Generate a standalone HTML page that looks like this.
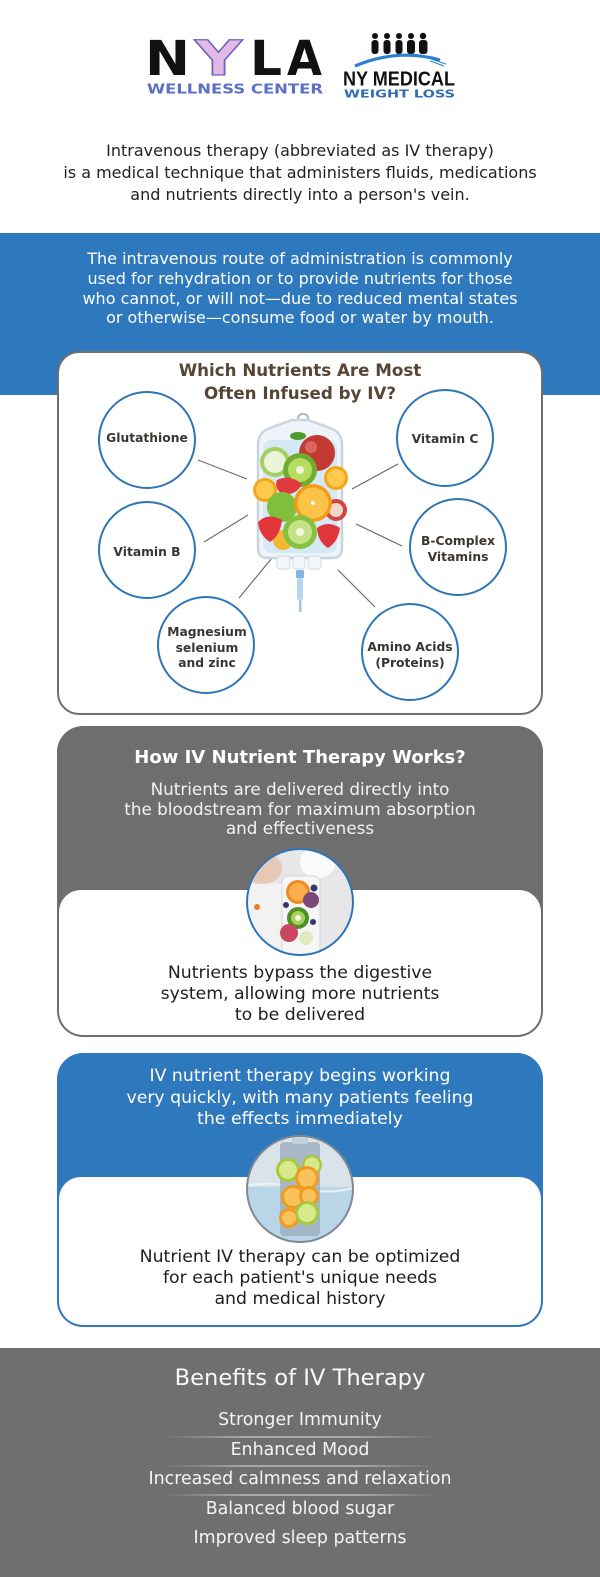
<!DOCTYPE html>
<html><head><meta charset="utf-8">
<style>
*{margin:0;padding:0;box-sizing:border-box}
html,body{width:600px;height:1577px;overflow:hidden;background:#fff}
body{position:relative;font-family:"DejaVu Sans","Liberation Sans",sans-serif}
.t{position:absolute;left:0;width:600px;text-align:center;white-space:nowrap}
.c{position:absolute;width:110px;text-align:center;white-space:nowrap;font-weight:bold;font-size:12.3px;color:#3b3530}
.dv{position:absolute;left:163px;width:275px;height:2px;background:linear-gradient(90deg,rgba(160,160,160,0),#a8a8a8 30%,#a8a8a8 70%,rgba(160,160,160,0))}
</style></head><body>

<!-- blue band -->
<div style="position:absolute;left:0;top:233px;width:600px;height:162px;background:#2e78bd"></div>
<!-- card 1 -->
<div style="position:absolute;left:57px;top:351px;width:486px;height:364px;background:#fff;border:2px solid #707070;border-radius:22px"></div>
<!-- card 2 -->
<div style="position:absolute;left:57px;top:726px;width:486px;height:311px;background:#6e6e6e;border-radius:26px;overflow:hidden">
  <div style="position:absolute;left:2px;right:2px;bottom:2px;top:164px;background:#fff;border-radius:22px 22px 24px 24px"></div>
</div>
<!-- card 3 -->
<div style="position:absolute;left:57px;top:1053px;width:486px;height:274px;background:#2e78bd;border-radius:26px;overflow:hidden">
  <div style="position:absolute;left:2px;right:2px;bottom:2px;top:124px;background:#fff;border-radius:22px 22px 24px 24px"></div>
</div>
<!-- benefits band -->
<div style="position:absolute;left:0;top:1348px;width:600px;height:229px;background:#6f6f6f"></div>

<svg style="position:absolute;left:0;top:0" width="600" height="1577" viewBox="0 0 600 1577">
  <defs>
    <clipPath id="p2"><circle cx="300" cy="902" r="53"/></clipPath>
    <clipPath id="p3"><circle cx="300" cy="1189" r="53"/></clipPath>
  </defs>

  <!-- NYLA logo -->
  <text x="145" y="75" font-family="DejaVu Sans" font-weight="bold" font-size="48" textLength="45" lengthAdjust="spacingAndGlyphs" fill="#111">N</text>
  <text x="195" y="75" font-family="DejaVu Sans" font-weight="bold" font-size="48" textLength="47" lengthAdjust="spacingAndGlyphs" fill="#e3b9e6" stroke="#6a62c0" stroke-width="1.3">Y</text>
  <text x="250" y="75" font-family="DejaVu Sans" font-weight="bold" font-size="48" textLength="32" lengthAdjust="spacingAndGlyphs" fill="#111">L</text>
  <text x="287" y="75" font-family="DejaVu Sans" font-weight="bold" font-size="48" textLength="35" lengthAdjust="spacingAndGlyphs" fill="#111">A</text>
  <text x="147" y="93.5" font-family="DejaVu Sans" font-weight="bold" font-size="13.5" textLength="176" lengthAdjust="spacingAndGlyphs" fill="#5b6fc4">WELLNESS CENTER</text>

  <!-- NY Medical logo -->
  <g fill="#111">
    <circle cx="375" cy="36" r="3"/><rect x="371.5" y="40" width="7" height="14" rx="3"/>
    <circle cx="387" cy="36" r="3"/><rect x="383.5" y="40" width="7" height="14" rx="3"/>
    <circle cx="399" cy="36" r="3"/><rect x="395.5" y="40" width="7" height="14" rx="3"/>
    <circle cx="411" cy="36" r="3"/><rect x="407" y="40" width="8" height="14" rx="3"/>
    <circle cx="423" cy="36" r="3.2"/><rect x="419" y="40" width="8.5" height="14" rx="3"/>
  </g>
  <path d="M355,66 Q398,48 440,60" stroke="#2a7fd0" stroke-width="3.2" fill="none"/>
  <path d="M428,58 L446,64 M430,61 L444,66" stroke="#2a7fd0" stroke-width="1" fill="none"/>
  <text x="343" y="85.5" font-family="Liberation Sans" font-weight="bold" font-size="20.5" textLength="112" lengthAdjust="spacingAndGlyphs" fill="#111">NY MEDICAL</text>
  <text x="344" y="97.5" font-family="DejaVu Sans" font-weight="bold" font-size="10.5" textLength="111" lengthAdjust="spacingAndGlyphs" fill="#2f6db5">WEIGHT LOSS</text>

  <!-- connectors -->
  <g stroke="#6b6b6b" stroke-width="1.2">
    <line x1="198" y1="460" x2="247" y2="479"/>
    <line x1="398" y1="464" x2="352" y2="489"/>
    <line x1="204" y1="542" x2="248" y2="515"/>
    <line x1="356" y1="524" x2="402" y2="546"/>
    <line x1="239" y1="598" x2="272" y2="558"/>
    <line x1="338" y1="570" x2="375" y2="607"/>
  </g>
  <!-- nutrient circles -->
  <g fill="#fff" stroke="#2e75b6" stroke-width="2">
    <circle cx="147" cy="440" r="48"/>
    <circle cx="445" cy="438" r="48"/>
    <circle cx="147" cy="550" r="48"/>
    <circle cx="458" cy="547" r="48"/>
    <circle cx="206" cy="645" r="48"/>
    <circle cx="410" cy="652" r="48"/>
  </g>

  <!-- IV bag -->
  <path d="M298,422 Q297,414 303,414 Q309,414 308,421" stroke="#a9b4bf" stroke-width="2" fill="none"/>
  <path d="M258,445 Q258,432 270,428 L292,420 L308,420 L330,428 Q342,432 342,445 L342,548 Q342,558 332,558 L268,558 Q258,558 258,548 Z" fill="#eef4f9" stroke="#c8d4de" stroke-width="2.5"/>
  <rect x="263" y="440" width="74" height="113" rx="8" fill="#d5e8f5"/>
  <g>
    <circle cx="275" cy="462" r="15" fill="#a5cf62"/><circle cx="275" cy="462" r="11" fill="#eaf4d6"/>
    <circle cx="317" cy="453" r="18" fill="#c23a32"/><circle cx="311" cy="447" r="6" fill="#d9675d"/>
    <ellipse cx="298" cy="436" rx="8" ry="4" fill="#4e9a2e"/>
    <circle cx="265" cy="490" r="12" fill="#f4a51c"/><circle cx="265" cy="490" r="9" fill="#fcca4f"/>
    <circle cx="336" cy="478" r="12" fill="#f4a51c"/><circle cx="336" cy="478" r="9" fill="#fcca4f"/>
    <circle cx="300" cy="470" r="17" fill="#6fac2f"/><circle cx="300" cy="470" r="12" fill="#b6dc62"/><circle cx="300" cy="470" r="4" fill="#f3f6d6"/>
    <path d="M277,480 Q290,474 302,484 Q296,496 282,494 Q274,488 277,480Z" fill="#e0393e"/>
    <circle cx="282" cy="507" r="15" fill="#7fbf3d"/>
    <circle cx="336" cy="510" r="11" fill="#d1463e"/><circle cx="336" cy="510" r="7" fill="#f0d8c8"/>
    <circle cx="313" cy="503" r="19" fill="#f49a16"/><circle cx="313" cy="503" r="15.5" fill="#fcc24a"/><circle cx="313" cy="503" r="2" fill="#fff"/>
    <circle cx="283" cy="540" r="10" fill="#f6b733"/>
    <path d="M258,522 Q268,512 282,520 Q280,536 270,542 Q259,535 258,522Z" fill="#e1373c"/>
    <circle cx="300" cy="532" r="17" fill="#86c03f"/><circle cx="300" cy="532" r="12" fill="#c6e286"/><circle cx="300" cy="532" r="4" fill="#f4f7e0"/>
    <path d="M317,528 Q328,520 340,528 Q338,542 328,548 Q318,542 317,528Z" fill="#df363b"/>
  </g>
  <rect x="277" y="556" width="13" height="13" rx="3" fill="#f3f6f8" stroke="#d0d9e0"/>
  <rect x="293" y="556" width="12" height="13" rx="3" fill="#f3f6f8" stroke="#d0d9e0"/>
  <rect x="308" y="556" width="13" height="13" rx="3" fill="#f3f6f8" stroke="#d0d9e0"/>
  <rect x="296" y="570" width="8" height="8" rx="1" fill="#7fb6e2"/>
  <rect x="297" y="578" width="6" height="22" rx="2" fill="#b3d7f1"/>
  <rect x="299" y="600" width="2.5" height="12" fill="#9cc7ea"/>

  <!-- card 2 photo -->
  <g clip-path="url(#p2)">
    <rect x="240" y="840" width="120" height="120" fill="#e7e7e9"/>
    <ellipse cx="262" cy="868" rx="20" ry="16" fill="#e7c7b5"/>
    <rect x="240" y="884" width="45" height="76" fill="#f2f2f2"/>
    <ellipse cx="318" cy="862" rx="18" ry="16" fill="#fafafa"/>
    <rect x="282" y="876" width="38" height="80" rx="6" fill="#f6f6f7" stroke="#d6d6da"/>
    <circle cx="298" cy="892" r="12" fill="#f08a20"/><circle cx="298" cy="892" r="9" fill="#f9b04c"/>
    <circle cx="311" cy="900" r="8" fill="#7b4878"/>
    <circle cx="314" cy="888" r="3.5" fill="#34386e"/><circle cx="286" cy="905" r="3" fill="#34386e"/>
    <circle cx="298" cy="918" r="11" fill="#4f8f24"/><circle cx="298" cy="918" r="7" fill="#a9d15a"/><circle cx="298" cy="918" r="3" fill="#f4f4e6"/>
    <circle cx="313" cy="922" r="3" fill="#34386e"/>
    <circle cx="289" cy="933" r="9" fill="#c9485e"/>
    <circle cx="306" cy="938" r="7" fill="#e2e7c4"/>
    <circle cx="257" cy="907" r="3" fill="#ef7a2a"/>
  </g>
  <circle cx="300" cy="902" r="53" fill="none" stroke="#2e75b6" stroke-width="2"/>

  <!-- card 3 photo -->
  <g clip-path="url(#p3)">
    <rect x="240" y="1130" width="120" height="120" fill="#dbe3ea"/>
    <rect x="240" y="1187" width="120" height="65" fill="#b9d5e8"/>
    <path d="M240,1187 Q270,1180 300,1188 T360,1186" stroke="#e8f2f9" stroke-width="2" fill="none"/>
    <rect x="280" y="1142" width="40" height="94" rx="4" fill="#9fb0bf" opacity="0.85"/>
    <rect x="292" y="1138" width="16" height="6" rx="2" fill="#c6d0d9"/>
    <circle cx="288" cy="1170" r="12" fill="#a9c93a"/><circle cx="288" cy="1170" r="9" fill="#d7ea8b"/>
    <circle cx="312" cy="1165" r="10" fill="#a9c93a"/><circle cx="312" cy="1165" r="7.5" fill="#d7ea8b"/>
    <circle cx="307" cy="1178" r="12" fill="#f19a22"/><circle cx="307" cy="1178" r="9" fill="#f9c25a"/>
    <circle cx="293" cy="1197" r="12" fill="#f19a22"/><circle cx="293" cy="1197" r="9" fill="#f9c25a"/>
    <circle cx="309" cy="1196" r="10" fill="#f19a22"/><circle cx="309" cy="1196" r="7" fill="#f9c25a"/>
    <circle cx="289" cy="1218" r="10" fill="#f19a22"/><circle cx="289" cy="1218" r="7" fill="#f9c25a"/>
    <circle cx="307" cy="1213" r="12" fill="#a9c93a"/><circle cx="307" cy="1213" r="9" fill="#d7ea8b"/>
  </g>
  <circle cx="300" cy="1189" r="53" fill="none" stroke="#7d8894" stroke-width="2"/>
</svg>

<!-- intro text -->
<div class="t" style="top:139.5px;font-size:16px;line-height:22px;color:#222">Intravenous therapy (abbreviated as IV therapy)<br>is a medical technique that administers fluids, medications<br>and nutrients directly into a person's vein.</div>

<div class="t" style="top:249px;font-size:16px;line-height:19.8px;color:#fff">The intravenous route of administration is commonly<br>used for rehydration or to provide nutrients for those<br>who cannot, or will not—due to reduced mental states<br>or otherwise—consume food or water by mouth.</div>

<div class="t" style="top:358.5px;font-size:16.7px;line-height:23px;font-weight:bold;color:#574636">Which Nutrients Are Most<br>Often Infused by IV?</div>

<div class="c" style="left:92px;top:430px;line-height:16px">Glutathione</div>
<div class="c" style="left:390px;top:431px;line-height:16px">Vitamin C</div>
<div class="c" style="left:92px;top:544px;line-height:16px">Vitamin B</div>
<div class="c" style="left:403px;top:533px;line-height:16px">B-Complex<br>Vitamins</div>
<div class="c" style="left:152px;top:625.25px;line-height:15.5px">Magnesium<br>selenium<br>and zinc</div>
<div class="c" style="left:355px;top:639px;line-height:16px">Amino Acids<br>(Proteins)</div>

<div class="t" style="top:746px;font-size:18px;line-height:24px;font-weight:bold;color:#fff">How IV Nutrient Therapy Works?</div>
<div class="t" style="top:780.4px;font-size:16.8px;line-height:19.2px;color:#f2f2f2">Nutrients are delivered directly into<br>the bloodstream for maximum absorption<br>and effectiveness</div>
<div class="t" style="top:962.5px;font-size:17.3px;line-height:21px;color:#1e1e1e">Nutrients bypass the digestive<br>system, allowing more nutrients<br>to be delivered</div>

<div class="t" style="top:1066.25px;font-size:17.3px;line-height:21.5px;color:#fff">IV nutrient therapy begins working<br>very quickly, with many patients feeling<br>the effects immediately</div>
<div class="t" style="top:1246.5px;font-size:17.3px;line-height:21px;color:#1e1e1e">Nutrient IV therapy can be optimized<br>for each patient's unique needs<br>and medical history</div>

<div class="t" style="top:1363px;font-size:22.6px;line-height:30px;color:#fafafa">Benefits of IV Therapy</div>
<div class="dv" style="top:1436px"></div>
<div class="dv" style="top:1465px"></div>
<div class="dv" style="top:1494px"></div>
<div class="t" style="top:1406.25px;font-size:17.4px;line-height:29.5px;color:#f4f4f4">Stronger Immunity<br>Enhanced Mood<br>Increased calmness and relaxation<br>Balanced blood sugar<br>Improved sleep patterns</div>

</body></html>
